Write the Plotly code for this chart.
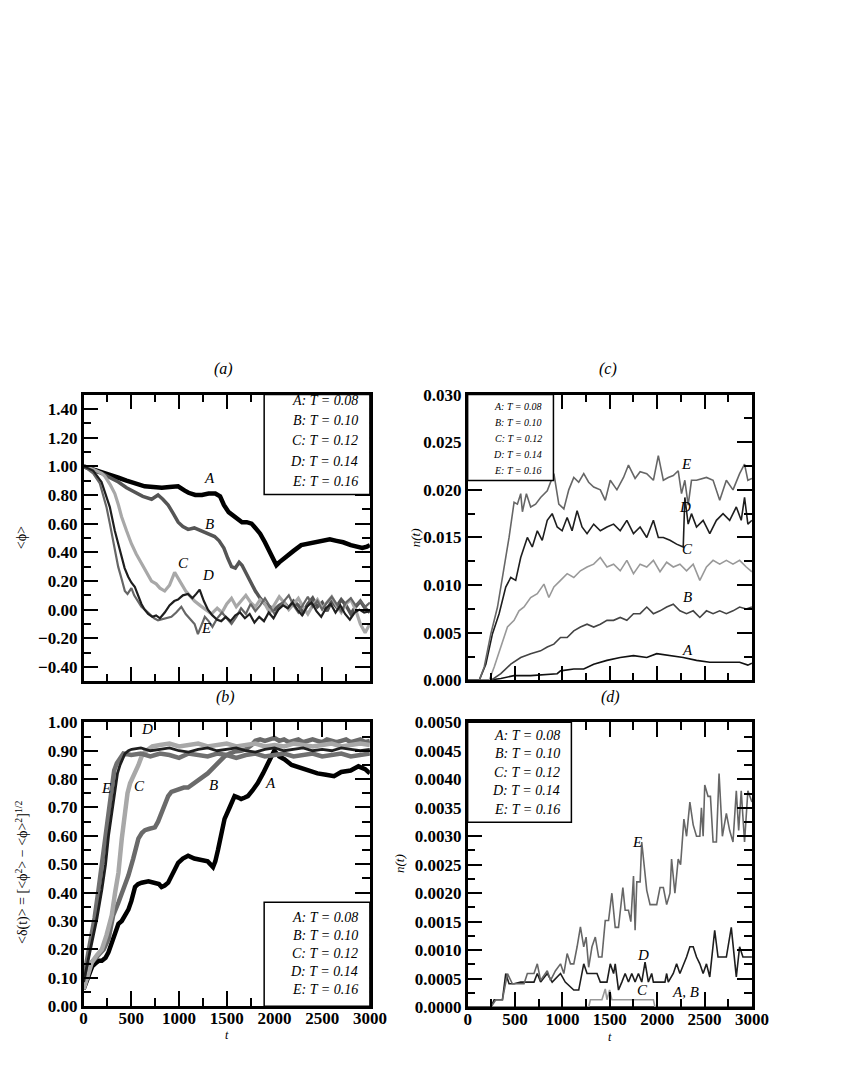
import plotly.graph_objects as go

# page window 842x1090; the html body adds an 8px margin
PAGE_OFF = 8
W, H = 842 - 2 * PAGE_OFF, 1090 - 2 * PAGE_OFF
# empirical calibration of where the page ends up in the photograph
CAL_SX, CAL_OX = 0.977, 2.4
CAL_SY, CAL_OY = 0.983, 8.3

# ---------------- Panel (a): <phi> vs t ----------------
a_A_t = [0, 100, 190, 280, 365, 450, 540, 640, 730, 820, 900, 990, 1060, 1100, 1170, 1240, 1310, 1380, 1430, 1470, 1520, 1560, 1610, 1660, 1710, 1760, 1800, 1850, 1900, 1950, 2000, 2020, 2050, 2100, 2150, 2200, 2280, 2350, 2420, 2500, 2580, 2650, 2720, 2800, 2860, 2920, 2970, 3000]
a_A_v = [1.00, 0.98, 0.96, 0.94, 0.92, 0.90, 0.88, 0.86, 0.855, 0.85, 0.855, 0.86, 0.83, 0.815, 0.80, 0.80, 0.81, 0.81, 0.79, 0.73, 0.68, 0.66, 0.63, 0.61, 0.61, 0.60, 0.57, 0.53, 0.47, 0.41, 0.34, 0.31, 0.33, 0.36, 0.39, 0.41, 0.45, 0.46, 0.47, 0.48, 0.49, 0.48, 0.47, 0.45, 0.44, 0.43, 0.44, 0.45]

a_B_t = [0, 100, 190, 280, 365, 450, 540, 620, 713, 780, 830, 886, 940, 991, 1040, 1095, 1160, 1234, 1300, 1373, 1420, 1470, 1510, 1550, 1590, 1630, 1660, 1700, 1750, 1800, 1850, 1900, 1950, 2000, 2050, 2100, 2150, 2200, 2250, 2300, 2350, 2400, 2450, 2500, 2550, 2600, 2650, 2700, 2750, 2800, 2850, 2900, 2950, 3000]
a_B_v = [1.00, 0.97, 0.95, 0.92, 0.89, 0.85, 0.82, 0.79, 0.77, 0.80, 0.77, 0.73, 0.67, 0.61, 0.58, 0.56, 0.57, 0.55, 0.53, 0.51, 0.48, 0.43, 0.36, 0.30, 0.29, 0.33, 0.31, 0.26, 0.19, 0.13, 0.08, 0.04, 0.02, 0.00, 0.03, 0.05, 0.01, 0.06, 0.03, -0.02, 0.04, 0.08, 0.02, 0.05, -0.01, 0.06, 0.02, 0.07, 0.03, -0.03, 0.02, 0.06, 0.01, -0.02]

a_C_t = [0, 100, 190, 223, 280, 327, 365, 397, 450, 501, 550, 606, 660, 711, 760, 800, 850, 900, 954, 990, 1024, 1070, 1110, 1163, 1220, 1280, 1340, 1400, 1450, 1500, 1550, 1600, 1650, 1700, 1750, 1800, 1850, 1900, 1950, 2000, 2050, 2100, 2150, 2200, 2250, 2300, 2350, 2400, 2450, 2500, 2550, 2600, 2650, 2700, 2750, 2800, 2850, 2900, 2950, 3000]
a_C_v = [1.00, 0.98, 0.95, 0.93, 0.87, 0.81, 0.73, 0.65, 0.55, 0.46, 0.39, 0.32, 0.26, 0.20, 0.18, 0.15, 0.13, 0.17, 0.26, 0.22, 0.18, 0.13, 0.10, 0.06, 0.03, 0.00, -0.03, 0.01, -0.02, 0.04, 0.08, 0.02, 0.06, 0.10, 0.05, 0.02, 0.07, 0.04, -0.02, 0.03, 0.09, 0.05, 0.00, 0.04, 0.08, 0.02, -0.03, 0.03, 0.07, 0.01, 0.05, 0.09, 0.03, -0.02, 0.04, 0.07, 0.00, -0.10, -0.16, -0.10]

a_D_t = [0, 100, 188, 230, 275, 327, 360, 397, 430, 467, 500, 536, 570, 606, 640, 676, 720, 760, 800, 850, 900, 950, 989, 1040, 1094, 1140, 1180, 1216, 1260, 1303, 1350, 1400, 1442, 1490, 1540, 1590, 1640, 1690, 1740, 1790, 1840, 1890, 1940, 1990, 2040, 2090, 2140, 2190, 2240, 2290, 2340, 2390, 2440, 2490, 2540, 2590, 2640, 2690, 2740, 2790, 2840, 2890, 2940, 3000]
a_D_v = [1.00, 0.97, 0.89, 0.81, 0.715, 0.55, 0.46, 0.37, 0.29, 0.23, 0.19, 0.16, 0.10, 0.04, 0.00, -0.03, -0.05, -0.04, -0.06, -0.02, 0.03, 0.06, 0.07, 0.10, 0.11, 0.08, 0.11, 0.14, 0.06, 0.00, -0.04, -0.07, -0.08, -0.05, -0.08, -0.04, -0.02, -0.06, -0.03, -0.09, -0.05, -0.08, -0.02, -0.06, 0.00, 0.03, 0.01, 0.05, 0.00, -0.04, 0.02, 0.05, -0.01, -0.05, 0.01, 0.04, -0.02, 0.03, -0.03, -0.07, -0.02, 0.00, -0.02, -0.01]

a_E_t = [0, 100, 170, 205, 240, 275, 310, 340, 362, 400, 432, 460, 501, 530, 571, 606, 641, 700, 740, 780, 850, 920, 970, 1024, 1070, 1110, 1163, 1198, 1230, 1270, 1310, 1350, 1400, 1450, 1500, 1550, 1600, 1650, 1700, 1750, 1800, 1850, 1900, 1950, 2000, 2050, 2100, 2150, 2200, 2250, 2300, 2350, 2400, 2450, 2500, 2550, 2600, 2650, 2700, 2750, 2800, 2850, 2900, 2950, 3000]
a_E_v = [1.00, 0.95, 0.88, 0.80, 0.715, 0.60, 0.48, 0.38, 0.30, 0.21, 0.13, 0.11, 0.15, 0.10, 0.06, 0.02, 0.00, -0.04, -0.06, -0.075, -0.06, -0.05, -0.02, 0.02, -0.03, -0.06, -0.10, -0.17, -0.11, -0.05, -0.08, -0.12, -0.06, -0.02, -0.06, -0.10, -0.05, 0.01, -0.03, 0.04, -0.01, 0.03, 0.08, 0.02, -0.03, 0.01, 0.06, 0.10, 0.03, -0.02, 0.04, 0.09, 0.02, 0.06, 0.00, 0.05, 0.09, 0.04, -0.01, 0.05, 0.08, 0.03, 0.06, 0.02, 0.05]

# ---------------- Panel (b): <delta(t)> vs t ----------------
b_A_t = [0, 30, 52, 90, 122, 160, 191, 230, 261, 300, 330, 365, 400, 440, 469, 500, 539, 570, 608, 680, 747, 790, 817, 850, 886, 940, 991, 1040, 1095, 1160, 1234, 1300, 1356, 1380, 1408, 1440, 1477, 1530, 1582, 1620, 1651, 1690, 1721, 1770, 1825, 1880, 1929, 1970, 1998, 2050, 2103, 2180, 2277, 2350, 2451, 2540, 2624, 2700, 2798, 2880, 2950, 3000]
b_A_v = [0.06, 0.09, 0.11, 0.14, 0.15, 0.16, 0.16, 0.17, 0.19, 0.23, 0.26, 0.29, 0.30, 0.32, 0.34, 0.37, 0.42, 0.43, 0.435, 0.44, 0.435, 0.43, 0.42, 0.425, 0.435, 0.47, 0.505, 0.52, 0.53, 0.52, 0.515, 0.51, 0.49, 0.51, 0.55, 0.61, 0.66, 0.70, 0.74, 0.735, 0.73, 0.735, 0.74, 0.76, 0.786, 0.82, 0.856, 0.88, 0.90, 0.88, 0.87, 0.85, 0.84, 0.83, 0.82, 0.815, 0.81, 0.825, 0.83, 0.845, 0.835, 0.82]

b_B_t = [0, 52, 100, 156, 210, 261, 310, 365, 420, 469, 520, 574, 610, 643, 690, 747, 780, 817, 850, 886, 920, 956, 1000, 1050, 1095, 1160, 1234, 1300, 1373, 1420, 1477, 1530, 1582, 1650, 1700, 1760, 1800, 1850, 1900, 1950, 2000, 2050, 2100, 2150, 2200, 2250, 2300, 2350, 2400, 2450, 2500, 2550, 2600, 2650, 2700, 2750, 2800, 2850, 2900, 2950, 3000]
b_B_v = [0.085, 0.14, 0.16, 0.18, 0.20, 0.236, 0.32, 0.365, 0.41, 0.46, 0.52, 0.59, 0.61, 0.62, 0.625, 0.63, 0.65, 0.68, 0.71, 0.74, 0.755, 0.76, 0.765, 0.77, 0.77, 0.785, 0.80, 0.82, 0.845, 0.86, 0.88, 0.89, 0.897, 0.90, 0.905, 0.92, 0.935, 0.94, 0.935, 0.94, 0.945, 0.935, 0.94, 0.93, 0.935, 0.94, 0.93, 0.935, 0.94, 0.935, 0.93, 0.94, 0.935, 0.93, 0.935, 0.94, 0.93, 0.935, 0.94, 0.93, 0.935]

b_C_t = [0, 50, 87, 140, 191, 240, 295, 330, 365, 400, 434, 460, 487, 510, 539, 575, 608, 640, 678, 720, 800, 900, 1000, 1100, 1200, 1300, 1400, 1500, 1600, 1700, 1800, 1900, 2000, 2100, 2200, 2300, 2400, 2500, 2600, 2700, 2800, 2900, 3000]
b_C_v = [0.06, 0.12, 0.155, 0.18, 0.20, 0.25, 0.32, 0.40, 0.47, 0.59, 0.70, 0.75, 0.785, 0.80, 0.82, 0.85, 0.88, 0.895, 0.905, 0.915, 0.92, 0.925, 0.915, 0.92, 0.925, 0.915, 0.92, 0.925, 0.915, 0.92, 0.925, 0.915, 0.92, 0.915, 0.925, 0.92, 0.915, 0.92, 0.925, 0.915, 0.92, 0.925, 0.92]

b_D_t = [0, 40, 87, 140, 191, 230, 261, 295, 330, 355, 382, 410, 434, 470, 504, 600, 700, 800, 900, 1000, 1100, 1200, 1300, 1400, 1500, 1600, 1700, 1800, 1900, 2000, 2100, 2200, 2300, 2400, 2500, 2600, 2700, 2800, 2900, 3000]
b_D_v = [0.085, 0.15, 0.225, 0.31, 0.41, 0.50, 0.60, 0.68, 0.76, 0.82, 0.85, 0.875, 0.89, 0.90, 0.905, 0.91, 0.90, 0.905, 0.91, 0.90, 0.895, 0.905, 0.91, 0.90, 0.905, 0.91, 0.90, 0.895, 0.905, 0.91, 0.90, 0.905, 0.91, 0.90, 0.905, 0.90, 0.91, 0.905, 0.90, 0.905]

b_E_t = [0, 35, 70, 115, 156, 190, 226, 260, 295, 320, 348, 380, 417, 500, 600, 700, 800, 900, 1000, 1100, 1200, 1300, 1400, 1500, 1600, 1700, 1800, 1900, 2000, 2100, 2200, 2300, 2400, 2500, 2600, 2700, 2800, 2900, 3000]
b_E_v = [0.096, 0.16, 0.225, 0.31, 0.41, 0.50, 0.587, 0.68, 0.775, 0.83, 0.856, 0.875, 0.89, 0.885, 0.89, 0.88, 0.89, 0.885, 0.875, 0.89, 0.885, 0.88, 0.89, 0.885, 0.875, 0.885, 0.89, 0.88, 0.885, 0.89, 0.88, 0.885, 0.89, 0.88, 0.885, 0.89, 0.88, 0.885, 0.89]

# ---------------- Panel (c): n(t) ----------------
c_E_t = [0, 122, 175, 245, 315, 385, 437, 490, 525, 560, 578, 620, 665, 717, 770, 840, 910, 962, 1015, 1067, 1120, 1172, 1225, 1277, 1330, 1400, 1452, 1505, 1575, 1645, 1697, 1767, 1820, 1890, 1960, 2012, 2065, 2117, 2170, 2222, 2257, 2292, 2327, 2362, 2415, 2520, 2590, 2660, 2730, 2800, 2870, 2922, 2957, 3000]
c_E_v = [0.0, 0.0, 0.0014, 0.0049, 0.0077, 0.0119, 0.0150, 0.0187, 0.0185, 0.0196, 0.0177, 0.0196, 0.0182, 0.0185, 0.0192, 0.0199, 0.0217, 0.0185, 0.0180, 0.0200, 0.0213, 0.0208, 0.0217, 0.0208, 0.0203, 0.0200, 0.0189, 0.0210, 0.0200, 0.0213, 0.0226, 0.0212, 0.0219, 0.0217, 0.0210, 0.0236, 0.0210, 0.0213, 0.0215, 0.0220, 0.0196, 0.0210, 0.0184, 0.0210, 0.0210, 0.0213, 0.0210, 0.0189, 0.0210, 0.0200, 0.0217, 0.0227, 0.0210, 0.0212]

c_D_t = [0, 122, 192, 262, 332, 402, 455, 507, 560, 630, 682, 735, 787, 840, 892, 945, 997, 1050, 1102, 1155, 1207, 1260, 1330, 1400, 1470, 1540, 1610, 1680, 1750, 1820, 1890, 1960, 2012, 2065, 2135, 2205, 2275, 2292, 2327, 2362, 2415, 2485, 2555, 2625, 2695, 2765, 2835, 2887, 2922, 2957, 3000]
c_D_v = [0.0, 0.0, 0.0017, 0.0049, 0.0070, 0.0098, 0.0108, 0.0105, 0.0129, 0.0150, 0.0140, 0.0157, 0.0147, 0.0168, 0.0175, 0.0161, 0.0157, 0.0171, 0.0157, 0.0178, 0.0161, 0.0154, 0.0164, 0.0157, 0.0161, 0.0164, 0.0157, 0.0168, 0.0154, 0.0161, 0.0150, 0.0168, 0.0150, 0.0150, 0.0147, 0.0143, 0.0140, 0.0192, 0.0164, 0.0175, 0.0161, 0.0168, 0.0154, 0.0168, 0.0175, 0.0168, 0.0182, 0.0168, 0.0192, 0.0164, 0.0168]

c_C_t = [0, 227, 280, 350, 420, 490, 542, 595, 665, 735, 805, 857, 910, 980, 1050, 1120, 1190, 1260, 1330, 1400, 1470, 1540, 1610, 1680, 1750, 1820, 1890, 1960, 2030, 2100, 2170, 2240, 2310, 2380, 2450, 2520, 2590, 2660, 2730, 2800, 2870, 2940, 3000]
c_C_v = [0.0, 0.0, 0.0014, 0.0035, 0.0056, 0.0063, 0.0073, 0.0077, 0.0087, 0.0091, 0.0101, 0.0087, 0.0098, 0.0105, 0.0112, 0.0108, 0.0115, 0.0119, 0.0122, 0.0129, 0.0119, 0.0122, 0.0115, 0.0126, 0.0112, 0.0122, 0.0119, 0.0126, 0.0114, 0.0124, 0.0119, 0.0122, 0.0115, 0.0122, 0.0105, 0.0119, 0.0126, 0.0122, 0.0126, 0.0122, 0.0126, 0.0119, 0.0114]

c_B_t = [0, 245, 350, 455, 560, 665, 770, 840, 910, 980, 1050, 1120, 1190, 1260, 1330, 1400, 1470, 1540, 1610, 1680, 1750, 1820, 1890, 1960, 2030, 2100, 2170, 2240, 2310, 2380, 2450, 2520, 2590, 2660, 2730, 2800, 2870, 2940, 3000]
c_B_v = [0.0, 0.0, 0.0007, 0.0017, 0.0024, 0.0028, 0.0031, 0.0035, 0.0038, 0.0045, 0.0045, 0.0052, 0.0056, 0.0059, 0.0056, 0.0059, 0.0063, 0.0063, 0.0066, 0.0063, 0.0070, 0.0070, 0.0077, 0.0070, 0.0073, 0.0077, 0.0080, 0.0073, 0.0070, 0.0073, 0.0066, 0.0073, 0.0070, 0.0073, 0.0070, 0.0073, 0.0077, 0.0075, 0.0077]

c_A_t = [0, 210, 350, 490, 665, 840, 945, 980, 1120, 1225, 1330, 1470, 1610, 1750, 1890, 1995, 2135, 2275, 2415, 2555, 2730, 2870, 2957, 3000]
c_A_v = [0.0, 0.0, 0.0002, 0.0005, 0.0005, 0.0006, 0.0007, 0.0010, 0.0012, 0.0012, 0.0017, 0.0021, 0.0024, 0.0026, 0.0024, 0.0028, 0.0026, 0.0024, 0.0021, 0.0019, 0.0019, 0.0019, 0.0016, 0.0018]

# ---------------- Panel (d): n(t), zoomed ----------------
d_E_t = [0, 245, 297, 367, 420, 472, 525, 595, 630, 700, 735, 770, 840, 875, 927, 980, 1015, 1050, 1085, 1120, 1155, 1190, 1225, 1250, 1277, 1312, 1347, 1382, 1417, 1452, 1487, 1522, 1557, 1592, 1638, 1662, 1697, 1722, 1750, 1767, 1785, 1820, 1837, 1890, 1925, 1995, 2030, 2065, 2100, 2135, 2152, 2187, 2222, 2247, 2282, 2310, 2345, 2380, 2415, 2450, 2467, 2485, 2502, 2537, 2562, 2590, 2625, 2653, 2688, 2730, 2765, 2800, 2835, 2860, 2887, 2922, 2957, 3000]
d_E_v = [0.0, 0.0, 0.00013, 0.00013, 0.00059, 0.00041, 0.00041, 0.00041, 0.00059, 0.00059, 0.00076, 0.00047, 0.00064, 0.00047, 0.00064, 0.00076, 0.00059, 0.00094, 0.00076, 0.00076, 0.00106, 0.00141, 0.00106, 0.00123, 0.00070, 0.00106, 0.00123, 0.00088, 0.00088, 0.00152, 0.00152, 0.00200, 0.00140, 0.00140, 0.00210, 0.00170, 0.00170, 0.00150, 0.00230, 0.00135, 0.00220, 0.00220, 0.00290, 0.00205, 0.00180, 0.00180, 0.00210, 0.00210, 0.00180, 0.00200, 0.00260, 0.00200, 0.00260, 0.00250, 0.00330, 0.00300, 0.00360, 0.00320, 0.00300, 0.00300, 0.00350, 0.00300, 0.00390, 0.00370, 0.00370, 0.00290, 0.00290, 0.00410, 0.00300, 0.00340, 0.00310, 0.00290, 0.00380, 0.00310, 0.00380, 0.00290, 0.00380, 0.00360]

d_D_t = [0, 245, 280, 367, 402, 437, 490, 560, 700, 735, 770, 840, 892, 980, 1030, 1120, 1172, 1200, 1225, 1260, 1365, 1400, 1470, 1505, 1540, 1557, 1592, 1627, 1662, 1697, 1732, 1767, 1802, 1837, 1872, 1907, 1942, 1960, 2082, 2100, 2117, 2170, 2205, 2240, 2310, 2345, 2380, 2415, 2450, 2485, 2520, 2555, 2607, 2642, 2730, 2782, 2835, 2870, 2905, 3000]
d_D_v = [0.0, 0.0, 0.00013, 0.00013, 0.00059, 0.00041, 0.00041, 0.00044, 0.00044, 0.00059, 0.00044, 0.00059, 0.00044, 0.00059, 0.00044, 0.00030, 0.00030, 0.00053, 0.00076, 0.00059, 0.00059, 0.00044, 0.00044, 0.00076, 0.00059, 0.00076, 0.00030, 0.00044, 0.00059, 0.00044, 0.00059, 0.00044, 0.00059, 0.00044, 0.00079, 0.00044, 0.00059, 0.00044, 0.00044, 0.00059, 0.00044, 0.00059, 0.00076, 0.00059, 0.00088, 0.00106, 0.00106, 0.00088, 0.00076, 0.00059, 0.00076, 0.00053, 0.00135, 0.00088, 0.00088, 0.00140, 0.00053, 0.00106, 0.00088, 0.00088]

d_C_t = [0, 1277, 1295, 1417, 1452, 1470, 1498, 1522, 1960, 1977, 3000]
d_C_v = [0.0, 0.0, 0.00013, 0.00013, 0.00032, 0.00013, 0.00030, 0.00013, 0.00013, 0.0, 0.0]

d_B_t = [0, 3000]
d_B_v = [0.0, 0.0]
d_A_t = [0, 3000]
d_A_v = [0.0, 0.0]

legend_lines = ["A: T = 0.08", "B: T = 0.10", "C: T = 0.12", "D: T = 0.14", "E: T = 0.16"]

# ---------------------------------------------------------------
def px(x):
    xi = (x - CAL_OX) / CAL_SX
    return (xi - PAGE_OFF) / W

def py(y):
    yi = (y - CAL_OY) / CAL_SY
    return 1 - (yi - PAGE_OFF) / H

SERIF = "Liberation Serif"

fig = go.Figure()

col_a = {"A": "#000000", "B": "#555555", "C": "#a8a8a8", "D": "#1e1e1e", "E": "#666666"}
wid_a = {"A": 4.5, "B": 3.5, "C": 3.2, "D": 2.2, "E": 2.2}

panel_a = {"A": (a_A_t, a_A_v), "B": (a_B_t, a_B_v), "C": (a_C_t, a_C_v), "E": (a_E_t, a_E_v), "D": (a_D_t, a_D_v)}
for k, (t, v) in panel_a.items():
    fig.add_trace(go.Scatter(x=t, y=v, mode="lines", line=dict(color=col_a[k], width=wid_a[k]),
                             xaxis="x", yaxis="y", showlegend=False))

col_b = {"A": "#000000", "B": "#6a6a6a", "C": "#a8a8a8", "D": "#1e1e1e", "E": "#707070"}
panel_b = {"A": (b_A_t, b_A_v), "B": (b_B_t, b_B_v), "C": (b_C_t, b_C_v), "E": (b_E_t, b_E_v), "D": (b_D_t, b_D_v)}
wid_b = {"A": 4.5, "B": 4.5, "C": 4.5, "D": 2.8, "E": 4.5}
for k, (t, v) in panel_b.items():
    fig.add_trace(go.Scatter(x=t, y=v, mode="lines", line=dict(color=col_b[k], width=wid_b[k]),
                             xaxis="x2", yaxis="y2", showlegend=False))

col_c = {"A": "#111111", "B": "#444444", "C": "#999999", "D": "#1e1e1e", "E": "#666666"}
panel_c = {"A": (c_A_t, c_A_v), "B": (c_B_t, c_B_v), "C": (c_C_t, c_C_v), "D": (c_D_t, c_D_v), "E": (c_E_t, c_E_v)}
for k, (t, v) in panel_c.items():
    fig.add_trace(go.Scatter(x=t, y=v, mode="lines", line=dict(color=col_c[k], width=1.6),
                             xaxis="x3", yaxis="y3", showlegend=False))

panel_d = {"A": (d_A_t, d_A_v), "B": (d_B_t, d_B_v), "C": (d_C_t, d_C_v), "D": (d_D_t, d_D_v), "E": (d_E_t, d_E_v)}
for k, (t, v) in panel_d.items():
    fig.add_trace(go.Scatter(x=t, y=v, mode="lines", line=dict(color=col_c[k], width=1.6),
                             xaxis="x4", yaxis="y4", showlegend=False))


def axis_style(**kw):
    d = dict(showline=True, linewidth=2.5, linecolor="black", mirror="allticks",
             ticks="inside", ticklen=15, tickwidth=2, tickcolor="black",
             showgrid=False, zeroline=False,
             tickfont=dict(family=SERIF, size=17, color="black", weight="bold"))
    d.update(kw)
    return d

xdom_l = [px(82), px(369)]
xdom_r = [px(467), px(752)]
minor_x = dict(ticks="inside", ticklen=8, tickwidth=1.5, tickcolor="black", dtick=250, showgrid=False)

fig.update_layout(
    width=W, height=H, margin=dict(l=0, r=0, t=0, b=0),
    paper_bgcolor="white", plot_bgcolor="white", showlegend=False,
    xaxis=axis_style(domain=xdom_l, anchor="y", range=[0, 3000], tick0=0, dtick=500,
                     showticklabels=False, minor=minor_x),
    yaxis=axis_style(domain=[py(681), py(394)], anchor="x", range=[-0.5, 1.5], tick0=-0.4, dtick=0.2,
                     tickformat=".2f",
                     minor=dict(ticks="inside", ticklen=8, tickwidth=1.5, tickcolor="black", dtick=0.1, showgrid=False)),
    xaxis2=axis_style(domain=xdom_l, anchor="y2", range=[0, 3000], tick0=0, dtick=500, minor=minor_x,
                      ticklabelstandoff=-5),
    yaxis2=axis_style(domain=[py(1006), py(722)], anchor="x2", range=[0, 1.0], tick0=0, dtick=0.1,
                      tickformat=".2f",
                      minor=dict(ticks="inside", ticklen=8, tickwidth=1.5, tickcolor="black", dtick=0.05, showgrid=False)),
    xaxis3=axis_style(domain=xdom_r, anchor="y3", range=[0, 3000], tick0=0, dtick=500,
                      showticklabels=False, minor=minor_x),
    yaxis3=axis_style(domain=[py(680), py(394)], anchor="x3", range=[0, 0.030], tick0=0, dtick=0.005,
                      tickformat=".3f",
                      minor=dict(ticks="inside", ticklen=8, tickwidth=1.5, tickcolor="black", dtick=0.0025, showgrid=False)),
    xaxis4=axis_style(domain=xdom_r, anchor="y4", range=[0, 3000], tick0=0, dtick=500, minor=minor_x,
                      ticklabelstandoff=-5),
    yaxis4=axis_style(domain=[py(1007), py(722)], anchor="x4", range=[0, 0.005], tick0=0, dtick=0.0005,
                      tickformat=".4f",
                      minor=dict(ticks="inside", ticklen=8, tickwidth=1.5, tickcolor="black", dtick=0.00025, showgrid=False)),
)

ann = []
shapes = []

def paper_text(x, y, text, size=14, italic=True, angle=0, xanchor="center", color="black"):
    ann.append(dict(x=px(x), y=py(y), xref="paper", yref="paper", text=text, showarrow=False,
                    xanchor=xanchor, yanchor="middle", textangle=angle,
                    font=dict(family=SERIF, size=size, color=color, style="italic" if italic else "normal")))

# panel titles
paper_text(222, 368, "(a)", size=16)
paper_text(608, 368, "(c)", size=16)
paper_text(224, 697, "(b)", size=16)
paper_text(610, 697, "(d)", size=16)

# axis titles
paper_text(20, 537, "&lt;ϕ&gt;", size=14, italic=False, angle=-90)
paper_text(20, 872, "&lt;δ(t)&gt; = [&lt;ϕ<sup>2</sup>&gt; − &lt;ϕ&gt;<sup>2</sup>]<sup>1/2</sup>", size=14, italic=False, angle=-90)
paper_text(415, 537, "n(t)", size=13, angle=-90)
paper_text(398, 863, "n(t)", size=13, angle=-90)
paper_text(226, 1035, "t", size=12)
paper_text(610, 1037, "t", size=12)

# legends (box + lines)
def legend(x0, y0, x1, y1, ys, xr, size):
    shapes.append(dict(type="rect", xref="paper", yref="paper", x0=px(x0), x1=px(x1), y0=py(y1), y1=py(y0),
                       line=dict(color="black", width=1.5), fillcolor="white", layer="above"))
    for yy, txt in zip(ys, legend_lines):
        paper_text(xr, yy, txt, size=size, xanchor="right")

legend(263, 394, 369, 494, [400, 420, 440, 460.5, 481], 359, 14)
legend(263, 902, 369, 1006, [917, 935, 953, 971, 989], 359, 14)
legend(467, 394, 553, 480, [406, 422, 437.5, 453.5, 469.5], 544, 10)
legend(467, 722, 571, 822, [735, 753.5, 772, 790.5, 809], 562, 14)

# curve labels
def lab(xa, ya, t, v, text, size=15):
    ann.append(dict(x=t, y=v, xref=xa, yref=ya, text=text, showarrow=False,
                    font=dict(family=SERIF, size=size, color="black", style="italic")))

lab("x", "y", 1318, 0.915, "A")
lab("x", "y", 1318, 0.60, "B")
lab("x", "y", 1052, 0.325, "C")
lab("x", "y", 1303, 0.24, "D")
lab("x", "y", 1285, -0.13, "E")

lab("x2", "y2", 665, 0.975, "D")
lab("x2", "y2", 233, 0.77, "E")
lab("x2", "y2", 581, 0.775, "C")
lab("x2", "y2", 1362, 0.78, "B")
lab("x2", "y2", 1957, 0.785, "A")

lab("x3", "y3", 2305, 0.0227, "E")
lab("x3", "y3", 2295, 0.0182, "D")
lab("x3", "y3", 2320, 0.0138, "C")
lab("x3", "y3", 2322, 0.0087, "B")
lab("x3", "y3", 2315, 0.0032, "A")

lab("x4", "y4", 1792, 0.0029, "E")
lab("x4", "y4", 1848, 0.00092, "D")
lab("x4", "y4", 1848, 0.0003, "C")
lab("x4", "y4", 2300, 0.00026, "A, B")

fig.update_layout(annotations=ann, shapes=shapes)

fig.write_html("out.html")
